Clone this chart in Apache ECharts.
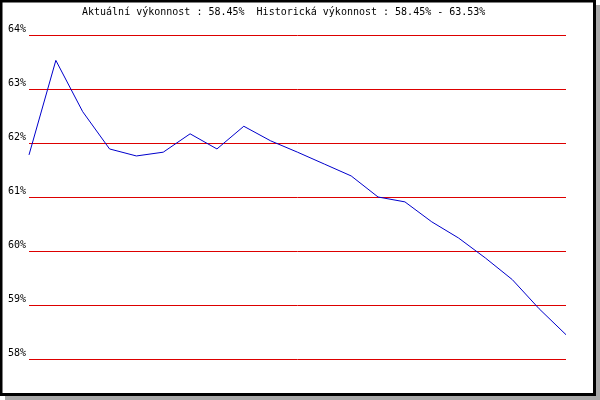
<!DOCTYPE html>
<html>
<head>
<meta charset="utf-8">
<script src="https://cdn.jsdelivr.net/npm/echarts@6/dist/echarts.min.js"></script>
<style>
html,body{margin:0;padding:0;background:#fff;}
#c{width:600px;height:400px;}
</style>
</head>
<body>
<div id="c"></div>
<script>
const titleText = 'Aktuální výkonnost : 58.45%  Historická výkonnost : 58.45% - 63.53%';
const categories = ['1','2','3','4','5','6','7','8','9','10','11','12','13','14','15','16','17','18','19','20','21'];
const performance = [61.78, 63.53, 62.58, 61.89, 61.76, 61.83, 62.17, 61.89, 62.31, 62.04, 61.83, 61.61, 61.39, 61.00, 60.91, 60.54, 60.24, 59.87, 59.47, 58.93, 58.45];
const yTicks = [58, 59, 60, 61, 62, 63, 64];

const chart = echarts.init(document.getElementById('c'), null, {renderer: 'canvas'});
chart.setOption({
  animation: false,
  backgroundColor: 'transparent',
  graphic: [
    {type: 'rect', z: -10, silent: true, shape: {x: 5, y: 5, width: 595, height: 395}, style: {fill: '#a8a8a8'}},
    {type: 'rect', z: -9, silent: true, shape: {x: 1, y: 1, width: 593.5, height: 393.5}, style: {fill: '#fff', stroke: '#000', lineWidth: 3}}
  ],
  title: {
    text: titleText,
    left: 82,
    top: 7,
    padding: 0,
    textStyle: {fontFamily: 'DejaVu Sans Mono', fontSize: 10, fontWeight: 'normal', color: '#000'}
  },
  grid: {left: 29, right: 34, top: 35, bottom: 41, containLabel: false},
  xAxis: {
    type: 'category',
    data: categories,
    boundaryGap: false,
    show: false
  },
  yAxis: {
    type: 'value',
    min: yTicks[0],
    max: yTicks[yTicks.length - 1],
    interval: 1,
    axisLine: {show: false},
    axisTick: {show: false},
    splitLine: {show: true, lineStyle: {color: '#dd0000', width: 1}},
    axisLabel: {
      margin: 3,
      verticalAlign: 'bottom',
      padding: [0, 0, 1, 0],
      fontFamily: 'DejaVu Sans Mono',
      fontSize: 10,
      color: '#000',
      formatter: v => yTicks.includes(v) ? v + '%' : ''
    }
  },
  series: [{
    type: 'line',
    data: performance,
    symbol: 'none',
    lineStyle: {color: '#0000cc', width: 1},
    silent: true
  }]
});
</script>
</body>
</html>
